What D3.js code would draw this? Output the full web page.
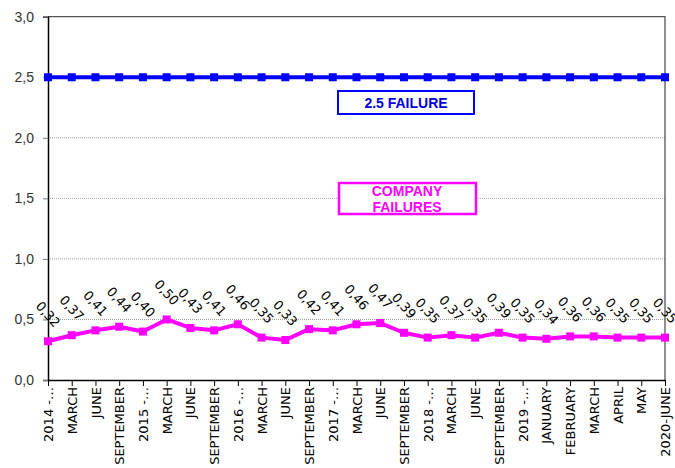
<!DOCTYPE html>
<html><head><meta charset="utf-8">
<script src="https://cdn.jsdelivr.net/npm/d3@7"></script>
<style>body{margin:0;background:#fff}svg{display:block}</style>
</head><body><svg id="c" width="675" height="468"></svg>
<script>
const categories = ["2014 -…","MARCH","JUNE","SEPTEMBER","2015 -…","MARCH","JUNE","SEPTEMBER","2016 -…","MARCH","JUNE","SEPTEMBER","2017 -…","MARCH","JUNE","SEPTEMBER","2018 -…","MARCH","JUNE","SEPTEMBER","2019 -…","JANUARY","FEBRUARY","MARCH","APRIL","MAY","2020-JUNE"];
const companyFailures = [0.32,0.37,0.41,0.44,0.40,0.50,0.43,0.41,0.46,0.35,0.33,0.42,0.41,0.46,0.47,0.39,0.35,0.37,0.35,0.39,0.35,0.34,0.36,0.36,0.35,0.35,0.35];
const failureThreshold = [2.5,2.5,2.5,2.5,2.5,2.5,2.5,2.5,2.5,2.5,2.5,2.5,2.5,2.5,2.5,2.5,2.5,2.5,2.5,2.5,2.5,2.5,2.5,2.5,2.5,2.5,2.5];
const yTicks = [0,0.5,1.0,1.5,2.0,2.5,3.0];
const legendThreshold = "2.5 FAILURE";
const legendCompany = ["COMPANY","FAILURES"];

const svg = d3.select("#c");
const L = 48, R = 665, T = 16.7, B = 380;
const idx = categories.map((d,i)=>i);
const x = d3.scalePoint().domain(idx).range([L,R]).padding(0);
const y = d3.scaleLinear().domain([0,3]).range([B,T]);
const fmt = v => d3.format(".1f")(v).replace(".",",");
const fmt2 = v => d3.format(".2f")(v).replace(".",",");

// gridlines
svg.append("g").selectAll("line").data(yTicks.filter(v=>v>0 && v<3)).join("line")
  .attr("x1",L).attr("x2",R).attr("y1",d=>y(d)).attr("y2",d=>y(d))
  .attr("stroke","#9a9a9a").attr("stroke-width",1).attr("stroke-dasharray","1,1");

// plot border top/right
svg.append("path").attr("d",`M${L},${y(3)}H${R}V${B}`).attr("fill","none")
  .attr("stroke","#555").attr("stroke-width",1.3);

// y axis
const yAxis = svg.append("g").attr("transform",`translate(${L},0)`)
  .call(d3.axisLeft(y).tickValues(yTicks).tickFormat(fmt).tickSize(5).tickPadding(9));
yAxis.select(".domain").attr("stroke","#000").attr("stroke-width",1.5);
yAxis.selectAll(".tick line").attr("stroke","#777");
yAxis.selectAll("text").attr("font-family","Liberation Sans, Arial, sans-serif").attr("font-size",14).attr("fill","#333");

// x axis
const xAxis = svg.append("g").attr("transform",`translate(0,${B})`)
  .call(d3.axisBottom(x).tickFormat(i=>categories[i]).tickSize(6).tickSizeOuter(0));
xAxis.select(".domain").attr("stroke","#000").attr("stroke-width",1.5);
xAxis.selectAll(".tick line").attr("stroke","#000");
xAxis.selectAll("text").attr("font-family","DejaVu Sans, sans-serif").attr("font-size",13).attr("fill","#000")
  .attr("text-anchor","end").attr("dy","0.35em")
  .attr("transform","translate(0,1) rotate(-90)").attr("x",-6).attr("y",0);

// series
function series(vals,color){
  const g = svg.append("g");
  g.append("path").datum(vals)
    .attr("d",d3.line().x((d,i)=>x(i)).y(d=>y(d)))
    .attr("fill","none").attr("stroke",color).attr("stroke-width",4).attr("stroke-linejoin","round");
  g.selectAll("rect").data(vals).join("rect")
    .attr("x",(d,i)=>x(i)-4).attr("y",d=>y(d)-4).attr("width",8).attr("height",8).attr("fill",color);
  return g;
}
series(failureThreshold,"#0000ff");
series(companyFailures,"#ff00ff");

// data labels
svg.append("g").selectAll("text").data(companyFailures).join("text")
  .attr("transform",(d,i)=>`translate(${x(i)},${y(d)-27}) rotate(48)`)
  .attr("text-anchor","middle").attr("dy","0.35em")
  .attr("font-family","DejaVu Sans, sans-serif").attr("font-size",13).attr("fill","#000")
  .text(fmt2);

// legend boxes
const lg1 = svg.append("g");
lg1.append("rect").attr("x",338).attr("y",91).attr("width",136).attr("height",23)
  .attr("fill","#fff").attr("stroke","#0000ff").attr("stroke-width",2);
lg1.append("text").attr("x",406).attr("y",108).attr("text-anchor","middle")
  .attr("font-family","Liberation Sans, Arial, sans-serif").attr("font-weight","bold").attr("font-size",14)
  .attr("fill","#0000dd").text(legendThreshold);

const lg2 = svg.append("g");
lg2.append("rect").attr("x",339).attr("y",183).attr("width",137).attr("height",31)
  .attr("fill","#fff").attr("stroke","#ff00ff").attr("stroke-width",2.5);
lg2.selectAll("text").data(legendCompany).join("text")
  .attr("x",407).attr("y",(d,i)=>195.5+i*16).attr("text-anchor","middle")
  .attr("font-family","Liberation Sans, Arial, sans-serif").attr("font-weight","bold").attr("font-size",14)
  .attr("fill","#ff00ff").text(d=>d);
</script></body></html>
